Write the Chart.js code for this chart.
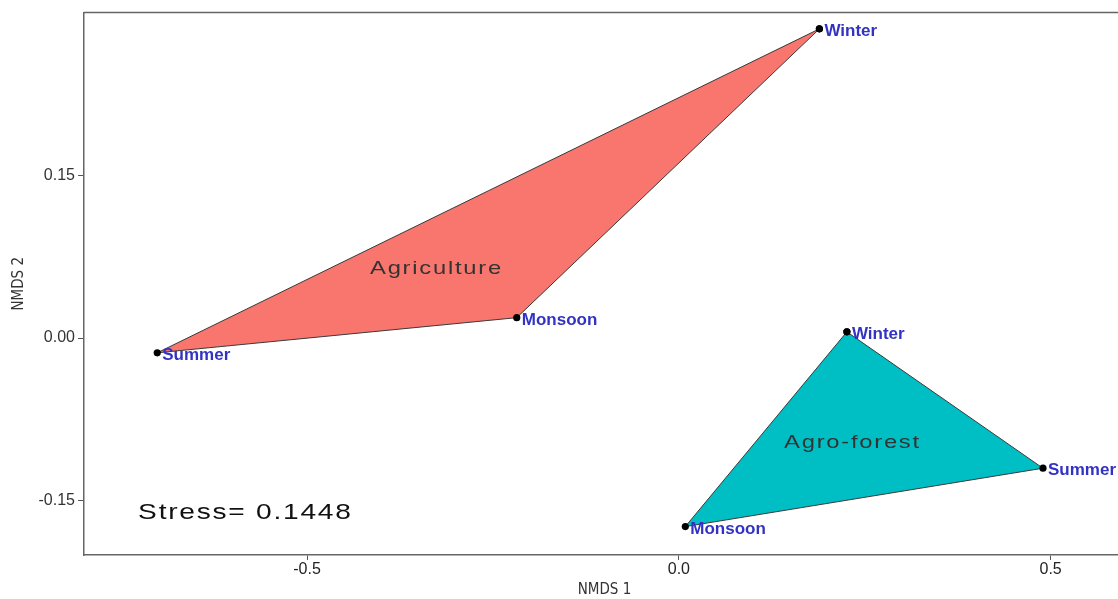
<!DOCTYPE html>
<html>
<head>
<meta charset="utf-8">
<title>NMDS ordination</title>
<script src="https://cdn.jsdelivr.net/npm/chart.js@4.4.1/dist/chart.umd.min.js"></script>
<style>
  html, body { margin: 0; padding: 0; background: #fff; overflow: hidden; }
  #wrap { width: 1130px; height: 599px; }
</style>
</head>
<body>
<div id="wrap"><canvas id="nmds" width="1130" height="599"></canvas></div>
<script>
// Site scores on the two NMDS axes, one array per land-use group
const seasons = ['Winter', 'Monsoon', 'Summer'];
const agricultureX = [0.189, -0.218, -0.7015];
const agricultureY = [0.285, 0.0188, -0.0136];
const agroforestX = [0.226, 0.0087, 0.4897];
const agroforestY = [0.0057, -0.1738, -0.120];

// Group names and where their names sit (data units)
const groupNames = ['Agriculture', 'Agro-forest'];
const groupLabelX = [-0.326, 0.2335];
const groupLabelY = [0.0636, -0.0966];

// Ordination stress and its annotation anchor (data units)
const stressValue = 0.1448;
const stressAnchor = [-0.583, -0.161];

// Axis ticks
const xTicks = [-0.5, 0, 0.5];
const xTickLabels = ['-0.5', '0.0', '0.5'];
const yTicks = [-0.15, 0, 0.15];
const yTickLabels = ['-0.15', '0.00', '0.15'];

const groupFill = ['#F8766D', '#00BFC4'];

function hull(xs, ys) {
  const pts = xs.map((x, i) => ({ x: x, y: ys[i], season: seasons[i] }));
  return pts.concat([{ x: xs[0], y: ys[0], season: null }]); // close the outline
}

const groups = [hull(agricultureX, agricultureY), hull(agroforestX, agroforestY)];

const datasets = groups.map((pts, g) => ({
  label: groupNames[g],
  data: pts,
  showLine: true,
  fill: 'shape',
  backgroundColor: groupFill[g],
  borderColor: '#3a3a3a',
  borderWidth: 1,
  tension: 0,
  pointRadius: 3.6,
  pointBackgroundColor: '#000',
  pointBorderColor: '#000',
  pointBorderWidth: 0
}));

// Draws the frame top edge, season names, group names and the stress value
const annotations = {
  id: 'annotations',
  afterDatasetsDraw(chart) {
    const ctx = chart.ctx;
    const xs = chart.scales.x, ys = chart.scales.y;
    const area = chart.chartArea;
    ctx.save();

    // top and right edges of the panel frame
    ctx.strokeStyle = '#666';
    ctx.lineWidth = 1.5;
    ctx.beginPath();
    ctx.moveTo(area.left, area.top);
    ctx.lineTo(area.right, area.top);
    ctx.lineTo(area.right, area.bottom);
    ctx.stroke();

    // season names beside each point
    ctx.font = 'bold 17px "Liberation Sans", Arial, sans-serif';
    ctx.fillStyle = '#3232c4';
    ctx.textAlign = 'left';
    ctx.textBaseline = 'alphabetic';
    groups.forEach(pts => {
      pts.forEach(p => {
        if (!p.season) return;
        const px = xs.getPixelForValue(p.x);
        const py = ys.getPixelForValue(p.y);
        ctx.fillText(p.season, px + 5, py + 7);
      });
    });

    // stretched, widely spaced annotation text
    function wideText(text, x, y, size, color) {
      ctx.save();
      ctx.font = size + 'px "Liberation Sans", Arial, sans-serif';
      ctx.fillStyle = color;
      ctx.letterSpacing = '1.4px';
      ctx.textAlign = 'left';
      ctx.textBaseline = 'middle';
      const sx = 1.25;
      const w = ctx.measureText(text).width * sx;
      ctx.translate(x - w / 2, y);
      ctx.scale(sx, 1);
      ctx.fillText(text, 0, 0);
      ctx.restore();
    }

    groupNames.forEach((name, g) => {
      wideText(name, xs.getPixelForValue(groupLabelX[g]), ys.getPixelForValue(groupLabelY[g]), 19, '#333');
    });

    wideText('Stress= ' + stressValue.toFixed(4),
      xs.getPixelForValue(stressAnchor[0]), ys.getPixelForValue(stressAnchor[1]), 22.5, '#111');

    ctx.restore();
  }
};

function fixedTicks(values) {
  return function (scale) {
    scale.ticks = values.map(v => ({ value: v }));
  };
}

new Chart(document.getElementById('nmds'), {
  type: 'scatter',
  data: { datasets: datasets },
  plugins: [annotations],
  options: {
    responsive: false,
    animation: false,
    events: [],
    layout: { padding: { top: 10, right: 5, left: 0, bottom: 0 } },
    plugins: {
      legend: { display: false },
      tooltip: { enabled: false }
    },
    scales: {
      x: {
        type: 'linear',
        min: -0.8,
        max: 0.6,
        afterBuildTicks: fixedTicks(xTicks),
        afterFit(scale) { scale.height = 44; },
        border: { display: true, color: '#666', width: 1.5 },
        grid: { drawOnChartArea: false, drawTicks: true, tickLength: 5, tickColor: '#555', tickWidth: 1 },
        ticks: {
          color: '#222',
          font: { size: 16, family: '"Liberation Sans Narrow", "Liberation Sans", Arial, sans-serif' },
          padding: 0,
          callback: (v) => xTickLabels[xTicks.indexOf(v)]
        },
        title: {
          display: true,
          text: 'NMDS 1',
          color: '#333',
          font: { size: 15, family: '"Liberation Sans Narrow", "DejaVu Sans Condensed", Arial, sans-serif' },
          padding: { top: 2, bottom: 0 }
        }
      },
      y: {
        type: 'linear',
        min: -0.2,
        max: 0.3,
        afterBuildTicks: fixedTicks(yTicks),
        afterFit(scale) { scale.width = 84; },
        border: { display: true, color: '#666', width: 1.5 },
        grid: { drawOnChartArea: false, drawTicks: true, tickLength: 6, tickColor: '#555', tickWidth: 1 },
        ticks: {
          color: '#333',
          font: { size: 16, family: '"Liberation Sans", Arial, sans-serif' },
          padding: 3,
          callback: (v) => yTickLabels[yTicks.indexOf(v)]
        },
        title: {
          display: true,
          text: 'NMDS 2',
          color: '#333',
          font: { size: 15, family: '"Liberation Sans Narrow", "DejaVu Sans Condensed", Arial, sans-serif' },
          padding: { top: 10, bottom: 0 }
        }
      }
    }
  }
});
</script>
</body>
</html>
